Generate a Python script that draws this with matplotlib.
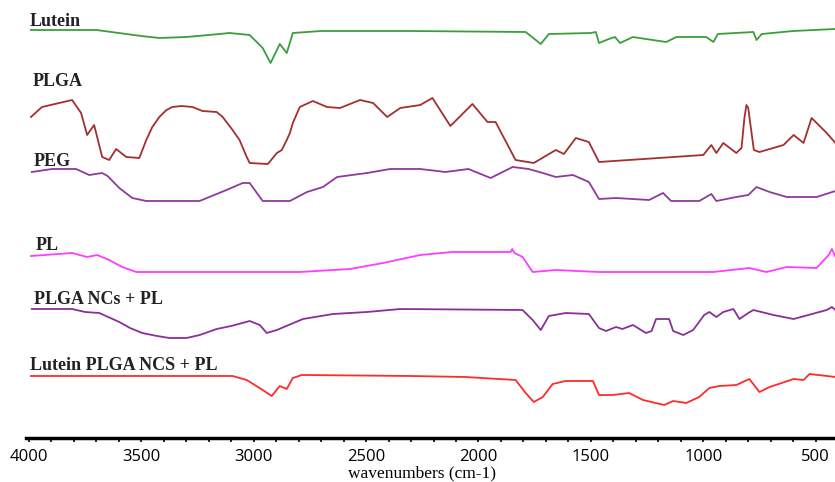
import matplotlib
matplotlib.use("Agg")
import matplotlib.pyplot as plt
from matplotlib.ticker import MultipleLocator

# readings (wavenumber, vertical reading; larger = lower on page)
lutein_wn = [3991, 3700, 3600, 3500, 3420, 3300, 3200, 3107, 3018, 2960, 2925, 2884,
             2853, 2826, 2700, 2300, 1790, 1723, 1687, 1500, 1478, 1464, 1420, 1393,
             1370, 1313, 1255, 1165, 1120, 987, 955, 935, 777, 763, 740, 600, 412]
lutein_t = [30, 30, 33, 36, 38, 37, 35, 33, 35, 48, 63, 44,
            53, 33, 31, 31, 32, 44, 34, 33, 32, 43, 39, 37,
            43, 37, 39, 42, 37, 37, 42, 34, 32, 40, 34, 31, 29]

plga_wn = [3991, 3942, 3808, 3768, 3741, 3710, 3674, 3643, 3612, 3567, 3509, 3478,
           3451, 3420, 3388, 3362, 3321, 3272, 3228, 3165, 3138, 3094, 3063, 3031,
           3018, 2937, 2897, 2875, 2853, 2839, 2826, 2795, 2737, 2674, 2616, 2527,
           2469, 2406, 2348, 2259, 2205, 2125, 2027, 1960, 1924, 1835, 1754, 1656,
           1620, 1567, 1509, 1464, 1000, 964, 942, 911, 853, 830, 817, 808,
           800, 790, 775, 750, 643, 598, 554, 518, 451, 412]
plga_t = [117, 107, 100, 113, 135, 125, 157, 160, 149, 157, 158, 140,
          127, 117, 110, 107, 106, 107, 111, 112, 117, 130, 140, 157,
          163, 164, 153, 150, 140, 133, 123, 107, 101, 107, 108, 100,
          103, 117, 108, 105, 98, 126, 104, 122, 122, 160, 163, 150,
          154, 138, 142, 162, 155, 145, 153, 143, 153, 148, 118, 105,
          108, 125, 150, 152, 145, 135, 143, 118, 133, 143]

peg_wn = [3987, 3897, 3790, 3732, 3674, 3650, 3598, 3540, 3478, 3241, 3121, 3049,
          3018, 2960, 2839, 2763, 2692, 2629, 2496, 2393, 2259, 2147, 2045, 1946,
          1848, 1777, 1714, 1656, 1580, 1509, 1464, 1388, 1241, 1179, 1143, 1018,
          964, 942, 853, 800, 763, 705, 629, 496, 412]
peg_t = [172, 169, 169, 175, 173, 176, 188, 198, 201, 201, 190, 183,
         183, 201, 201, 192, 187, 177, 173, 169, 169, 172, 169, 178,
         167, 169, 173, 177, 175, 182, 199, 198, 200, 193, 201, 201,
         194, 201, 197, 195, 187, 192, 197, 197, 191]

pl_wn = [3991, 3808, 3741, 3696, 3643, 3585, 3522, 2795, 2571, 2424, 2259, 2116,
         1857, 1850, 1840, 1804, 1759, 1656, 1464, 955, 795, 719, 629, 496,
         442, 428, 412]
pl_t = [256, 253, 257, 255, 260, 267, 272, 272, 269, 263, 255, 252,
        252, 249, 253, 257, 272, 270, 272, 272, 268, 272, 267, 268,
        255, 249, 257]

ncs_wn = [3987, 3808, 3750, 3687, 3598, 3550, 3496, 3430, 3375, 3299, 3240, 3165,
          3100, 3018, 2973, 2942, 2897, 2781, 2647, 2496, 2348, 1804, 1759, 1723,
          1687, 1612, 1509, 1464, 1433, 1388, 1360, 1313, 1255, 1230, 1210, 1152,
          1134, 1089, 1045, 996, 973, 942, 911, 866, 839, 800, 777, 688,
          598, 451, 428, 412]
ncs_t = [309, 309, 312, 313, 322, 328, 333, 336, 338, 338, 335, 329,
         326, 321, 325, 333, 330, 319, 314, 312, 309, 310, 320, 330,
         316, 313, 314, 328, 331, 327, 329, 325, 333, 331, 319, 319,
         331, 335, 330, 315, 312, 317, 312, 309, 319, 313, 310, 315,
         319, 310, 307, 310]

lut_ncs_wn = [3991, 3094, 3031, 2960, 2920, 2884, 2853, 2826, 2786, 2300, 2058, 1835,
              1790, 1754, 1714, 1670, 1612, 1491, 1464, 1402, 1330, 1268, 1174, 1134,
              1076, 1018, 973, 928, 853, 795, 750, 705, 598, 554, 527, 412]
lut_ncs_t = [376, 376, 380, 390, 396, 386, 389, 378, 375, 376, 377, 380,
             393, 402, 397, 384, 381, 381, 395, 395, 393, 400, 405, 401,
             403, 397, 388, 386, 385, 379, 392, 387, 379, 380, 374, 377]

series = [
    ("Lutein", lutein_wn, lutein_t, "#3b9e3b"),
    ("PLGA", plga_wn, plga_t, "#a32f2f"),
    ("PEG", peg_wn, peg_t, "#8d3a9c"),
    ("PL", pl_wn, pl_t, "#ff3cff"),
    ("PLGA NCs + PL", ncs_wn, ncs_t, "#8a2f98"),
    ("Lutein PLGA NCS + PL", lut_ncs_wn, lut_ncs_t, "#ff2b2b"),
]
label_pos = [(3995, 21), (3982, 82), (3978, 162), (3970, 245), (3978, 300), (3995, 366)]

fig = plt.figure(figsize=(8.35, 4.82), dpi=100)
ax = fig.add_axes([26 / 835, 44 / 482, 1 - 26 / 835, 438 / 482])

for (name, wn, t, color), (lx, ly) in zip(series, label_pos):
    ax.plot(wn, t, color=color, lw=1.3)
    ax.text(lx, ly, name, family="Liberation Serif", fontsize=13, fontweight="bold",
            color="#222222", va="center", ha="left")

ax.set_xlim(4013, 414)
ax.set_ylim(438, 0)
for side in ["top", "right", "left"]:
    ax.spines[side].set_visible(False)
ax.spines["bottom"].set_linewidth(2.5)
ax.set_yticks([])
ax.xaxis.set_major_locator(MultipleLocator(500))
ax.xaxis.set_minor_locator(MultipleLocator(100))
ax.tick_params(axis="x", which="both", direction="out", length=3, width=1.2, pad=5)
for lab in ax.get_xticklabels():
    lab.set_family("Open Sans")
    lab.set_fontsize(12)
ax.set_xlabel("wavenumbers (cm-1)", family="Liberation Serif", fontsize=12.5,
              va="top")
ax.xaxis.set_label_coords(0.49, -0.063)

fig.savefig("out.png", dpi=100)
